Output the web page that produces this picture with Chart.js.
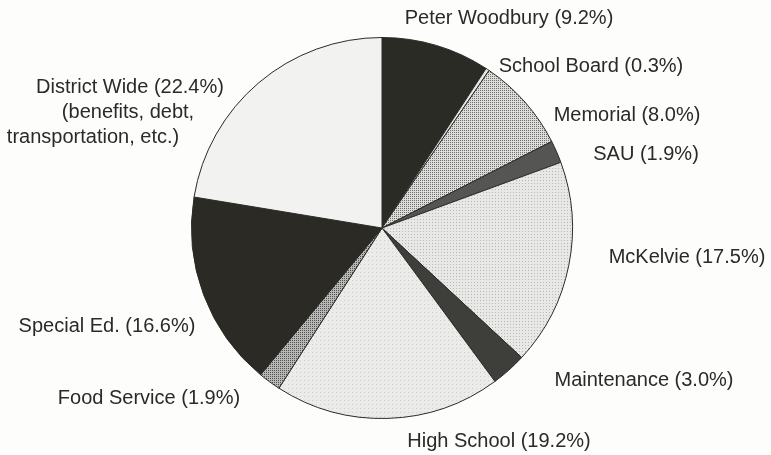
<!DOCTYPE html>
<html>
<head>
<meta charset="utf-8">
<script src="https://cdn.jsdelivr.net/npm/chart.js@4.4.1/dist/chart.umd.min.js"></script>
<style>
  html, body { margin: 0; padding: 0; background: #fdfdfb; }
  #wrap { width: 771px; height: 455px; position: relative; }
</style>
</head>
<body>
<div id="wrap"><canvas id="c" width="771" height="455"></canvas></div>
<script>
// ---- data ----
const categories = ["Peter Woodbury", "School Board", "Memorial", "SAU", "McKelvie",
                    "Maintenance", "High School", "Food Service", "Special Ed.", "District Wide"];
const shares = [9.2, 0.3, 8.0, 1.9, 17.5, 3.0, 19.2, 1.9, 16.6, 22.4];
const labelLines = [
  ["Peter Woodbury (9.2%)"],
  ["School Board (0.3%)"],
  ["Memorial (8.0%)"],
  ["SAU (1.9%)"],
  ["McKelvie (17.5%)"],
  ["Maintenance (3.0%)"],
  ["High School (19.2%)"],
  ["Food Service (1.9%)"],
  ["Special Ed. (16.6%)"],
  ["District Wide (22.4%)", "(benefits, debt,", "transportation, etc.)"]
];

// ---- styling (label positions relative to pie centre, px) ----
const labelOffsets = [
  [[127, -210]],
  [[209, -162]],
  [[245, -113]],
  [[264, -74]],
  [[305, 29]],
  [[262, 152]],
  [[117, 213]],
  [[-233, 170]],
  [[-275, 98]],
  [[-252, -141], [-254, -116], [-289, -91]]
];

function makePattern(bg, dot, step) {
  const p = document.createElement('canvas');
  p.width = step; p.height = step;
  const g = p.getContext('2d');
  g.fillStyle = bg; g.fillRect(0, 0, step, step);
  g.fillStyle = dot; g.fillRect(0, 0, 1, 1);
  return document.getElementById('c').getContext('2d').createPattern(p, 'repeat');
}

const colors = [
  '#2b2b25',
  '#e6e6e3',
  makePattern('#dcdcda', '#6f6f6c', 2),
  '#555553',
  makePattern('#e8e8e6', '#b8b8b6', 3),
  '#3e3e3a',
  makePattern('#ebebe9', '#cfcfcd', 4),
  makePattern('#b8b8b6', '#505050', 2),
  '#2b2a24',
  '#f2f2f0'
];

const labelPlugin = {
  id: 'outerLabels',
  afterDraw(chart) {
    const arc = chart.getDatasetMeta(0).data[0];
    const cx = arc.x, cy = arc.y;
    const ctx = chart.ctx;
    ctx.save();
    ctx.font = '20px "Liberation Sans", Arial, Helvetica, sans-serif';
    ctx.fillStyle = '#2a2a28';
    ctx.textAlign = 'center';
    ctx.textBaseline = 'middle';
    labelLines.forEach((lines, i) => {
      lines.forEach((t, j) => {
        const o = labelOffsets[i][j];
        ctx.fillText(t, cx + o[0], cy + o[1]);
      });
    });
    ctx.restore();
  }
};

new Chart(document.getElementById('c'), {
  type: 'pie',
  data: {
    labels: categories,
    datasets: [{
      data: shares,
      backgroundColor: colors,
      borderColor: '#2a2a26',
      borderWidth: 1
    }]
  },
  options: {
    responsive: false,
    animation: false,
    layout: { padding: { top: 37, bottom: 36, left: 0, right: 7 } },
    plugins: {
      legend: { display: false },
      tooltip: { enabled: false },
      title: { display: false }
    }
  },
  plugins: [labelPlugin]
});
</script>
</body>
</html>
